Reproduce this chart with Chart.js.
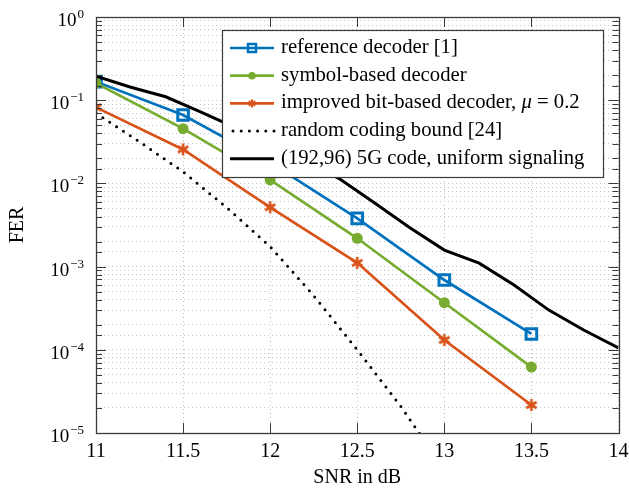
<!DOCTYPE html>
<html>
<head>
<meta charset="utf-8">
<script src="https://cdn.jsdelivr.net/npm/chart.js@4.4.1/dist/chart.umd.min.js"></script>
<style>
  html, body { margin: 0; padding: 0; background: #fff; }
  #wrap { width: 629px; height: 490px; }
</style>
</head>
<body>
<div id="wrap"><canvas id="ferChart" width="629" height="490"></canvas></div>
<script>
// values
const snrMarkers = [11, 11.5, 12, 12.5, 13, 13.5];
const ferReference = [0.167, 0.0664, 0.0178, 0.0038, 0.00069, 0.000155];
const ferSymbol = [0.16, 0.0455, 0.011, 0.00219, 0.000368, 0.000062];
const ferImproved = [0.082, 0.0256, 0.00516, 0.00111, 0.000131, 0.0000217];

const snrBound = [11, 11.25, 11.5, 11.75, 12, 12.25, 12.5, 12.75, 13];
const ferBound = [0.0697, 0.0316, 0.0138, 0.00513, 0.00174, 0.000447, 0.0001, 0.0000209, 0.0000036];

const snr5G = [11, 11.2, 11.4, 11.6, 11.8, 12, 12.2, 12.4, 12.6, 12.8, 13, 13.2, 13.4, 13.6, 13.8, 14];
const fer5G = [0.195, 0.143, 0.11, 0.0724, 0.0468, 0.0302, 0.0186, 0.0113, 0.0058, 0.00295, 0.00158, 0.0011, 0.0006, 0.0003, 0.000173, 0.000105];

const yTickExponents = [0, -1, -2, -3, -4, -5];

const FONT = "'Liberation Serif', 'DejaVu Serif', serif";
const BLUE = '#0072BD';
const GREEN = '#77AC30';
const ORANGE = '#D95319';

Chart.defaults.font.family = FONT;
Chart.defaults.color = '#000';

const toPoints = (xs, ys) => xs.map((x, i) => ({ x: x, y: ys[i] }));

// six-armed asterisk like the pgfplots mark
function asterisk(size, color, lw) {
  const c = document.createElement('canvas');
  c.width = c.height = size;
  const g = c.getContext('2d');
  const r = size / 2 - 1;
  g.strokeStyle = color;
  g.lineWidth = lw;
  g.beginPath();
  for (let i = 0; i < 3; i++) {
    const a = Math.PI / 2 + i * Math.PI / 3;
    g.moveTo(size / 2 + r * Math.cos(a), size / 2 + r * Math.sin(a));
    g.lineTo(size / 2 - r * Math.cos(a), size / 2 - r * Math.sin(a));
  }
  g.stroke();
  return c;
}
const starBig = asterisk(14, ORANGE, 2.6);
const starSmall = asterisk(10, ORANGE, 2.2);

const datasets = [
  {
    label: 'reference decoder [1]',
    data: toPoints(snrMarkers, ferReference),
    borderColor: BLUE, borderWidth: 2.7,
    pointStyle: 'rect', pointRadius: 7.5, pointBorderWidth: 3,
    pointBorderColor: BLUE, pointBackgroundColor: 'rgba(0,0,0,0)',
    order: 5, legendMark: 'square'
  },
  {
    label: 'symbol-based decoder',
    data: toPoints(snrMarkers, ferSymbol),
    borderColor: GREEN, borderWidth: 2.7,
    pointStyle: 'circle', pointRadius: 5.5, pointBorderWidth: 0,
    pointBackgroundColor: GREEN,
    order: 4, legendMark: 'circle'
  },
  {
    label: 'improved bit-based decoder, μ = 0.2',
    data: toPoints(snrMarkers, ferImproved),
    borderColor: ORANGE, borderWidth: 2.7,
    pointStyle: starBig, pointRadius: 7,
    order: 3, legendMark: 'star'
  },
  {
    label: 'random coding bound [24]',
    data: toPoints(snrBound, ferBound),
    borderColor: '#000', borderWidth: 3,
    borderDash: [0, 8.2], borderCapStyle: 'round',
    pointRadius: 0,
    order: 2, legendMark: 'dots'
  },
  {
    label: '(192,96) 5G code, uniform signaling',
    data: toPoints(snr5G, fer5G),
    borderColor: '#000', borderWidth: 3,
    pointRadius: 0,
    order: 1, legendMark: 'none'
  }
];

const overlay = {
  id: 'overlay',
  afterDatasetsDraw(chart) {
    const { ctx, chartArea: a, scales: { x, y } } = chart;
    ctx.save();

    // inward ticks on all four sides
    ctx.strokeStyle = '#3a3a3a';
    ctx.lineWidth = 1;
    ctx.beginPath();
    x.ticks.forEach(t => {
      const px = Math.round(x.getPixelForValue(t.value)) + 0.5;
      ctx.moveTo(px, a.bottom); ctx.lineTo(px, a.bottom - 10);
      ctx.moveTo(px, a.top); ctx.lineTo(px, a.top + 10);
    });
    y.ticks.forEach(t => {
      const lg = Math.log10(t.value);
      const len = Math.abs(lg - Math.round(lg)) < 1e-6 ? 10 : 6;
      const py = Math.round(y.getPixelForValue(t.value)) + 0.5;
      ctx.moveTo(a.left, py); ctx.lineTo(a.left + len, py);
      ctx.moveTo(a.right, py); ctx.lineTo(a.right - len, py);
    });
    ctx.stroke();
    ctx.lineWidth = 1.3;
    ctx.strokeRect(Math.round(a.left) + 0.5, Math.round(a.top) + 0.5,
      Math.round(a.right - a.left), Math.round(a.bottom - a.top));

    // y tick labels as 10^k
    ctx.fillStyle = '#000';
    ctx.textAlign = 'right';
    ctx.textBaseline = 'alphabetic';
    yTickExponents.forEach(k => {
      const py = y.getPixelForValue(Math.pow(10, k));
      const exp = k === 0 ? '0' : '\u2212' + Math.abs(k);
      ctx.font = '13px ' + FONT;
      const ew = ctx.measureText(exp).width;
      ctx.fillText(exp, a.left - 12, py + 1);
      ctx.font = '19px ' + FONT;
      ctx.fillText('10', a.left - 13 - ew, py + 9);
    });

    // legend box
    const box = { left: 222, top: 30, right: 603, bottom: 177 };
    ctx.fillStyle = '#fff';
    ctx.fillRect(box.left, box.top, box.right - box.left, box.bottom - box.top);
    ctx.strokeStyle = '#3a3a3a';
    ctx.lineWidth = 1.2;
    ctx.strokeRect(box.left + 0.5, box.top + 0.5, box.right - box.left, box.bottom - box.top);

    const rowY0 = 48, rowStep = 27.7;
    datasets.forEach((ds, i) => {
      const ry = rowY0 + i * rowStep;
      ctx.strokeStyle = ds.borderColor;
      ctx.lineWidth = ds.borderWidth;
      ctx.lineCap = ds.borderCapStyle || 'butt';
      ctx.setLineDash(ds.borderDash || []);
      ctx.beginPath();
      ctx.moveTo(ds.legendMark === 'dots' ? 233 : 230, ry);
      ctx.lineTo(274, ry);
      ctx.stroke();
      ctx.setLineDash([]);
      ctx.lineCap = 'butt';
      const mx = 252;
      if (ds.legendMark === 'square') {
        ctx.lineWidth = 2.5;
        ctx.strokeRect(mx - 4, ry - 4, 8, 8);
      } else if (ds.legendMark === 'circle') {
        ctx.fillStyle = ds.borderColor;
        ctx.beginPath();
        ctx.arc(mx, ry, 3.8, 0, Math.PI * 2);
        ctx.fill();
      } else if (ds.legendMark === 'star') {
        ctx.drawImage(starSmall, mx - 5, ry - 5);
      }

      // label text, with the mu in italics
      ctx.fillStyle = '#000';
      ctx.textAlign = 'left';
      let tx = 281;
      const parts = ds.label.split('μ');
      parts.forEach((p, j) => {
        ctx.font = '20.7px ' + FONT;
        ctx.fillText(p, tx, ry + 5);
        tx += ctx.measureText(p).width;
        if (j < parts.length - 1) {
          ctx.font = 'italic 20.7px ' + FONT;
          ctx.fillText('μ', tx, ry + 5);
          tx += ctx.measureText('μ').width;
        }
      });
    });
    ctx.restore();
  }
};

new Chart(document.getElementById('ferChart'), {
  type: 'line',
  data: { datasets: datasets },
  options: {
    responsive: false,
    animation: false,
    layout: { padding: { top: 17, right: 10, left: 0, bottom: 0 } },
    plugins: { legend: { display: false }, tooltip: { enabled: false } },
    elements: { line: { tension: 0 } },
    scales: {
      x: {
        type: 'linear',
        min: 11, max: 14,
        ticks: { stepSize: 0.5, font: { size: 20 }, padding: 7, color: '#000',
          callback: v => String(Math.round(v * 10) / 10) },
        grid: { color: '#bdbdbd', drawTicks: false },
        border: { display: false, dash: [1, 3] },
        title: { display: true, text: 'SNR in dB', font: { size: 20 }, padding: { top: 0, bottom: 0 } },
        afterFit: s => { s.height = 57; s.paddingLeft = 0; s.paddingRight = 0; }
      },
      y: {
        type: 'logarithmic',
        min: 1e-5, max: 1,
        ticks: { display: false },
        grid: { color: '#c4c4c4', drawTicks: false },
        border: { display: false, dash: [1, 3] },
        title: { display: true, text: 'FER', font: { size: 20 }, padding: { top: 6, bottom: 0 } },
        afterFit: s => { s.width = 96; }
      }
    }
  },
  plugins: [overlay]
});
</script>
</body>
</html>
